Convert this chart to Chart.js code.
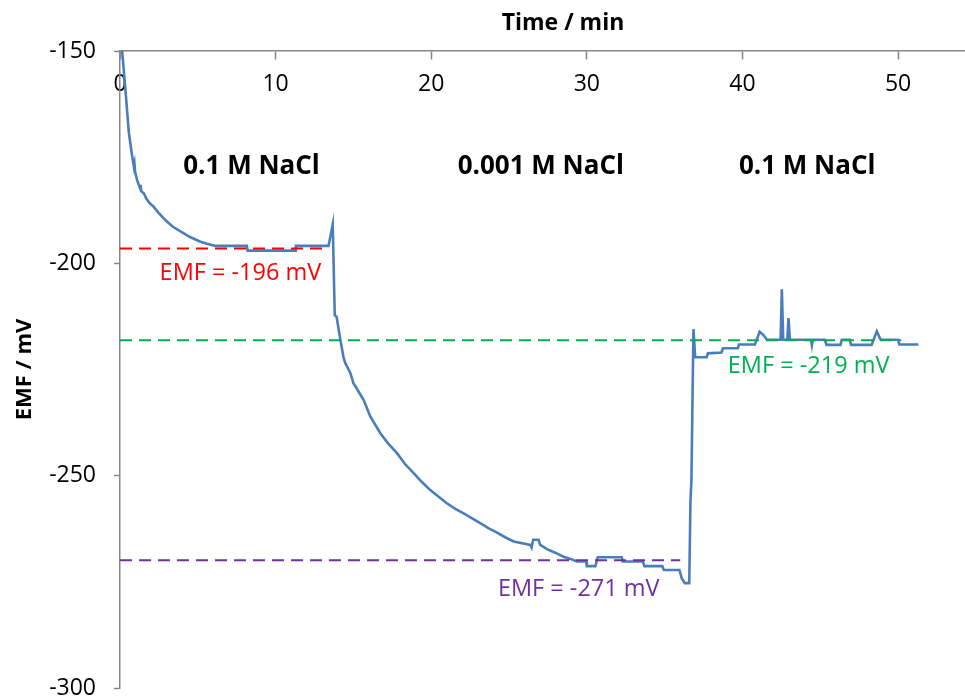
<!DOCTYPE html>
<html>
<head>
<meta charset="utf-8">
<title>EMF vs time</title>
<script src="https://cdn.jsdelivr.net/npm/chart.js@4.4.1/dist/chart.umd.min.js"></script>
<style>
  html, body { margin: 0; padding: 0; background: #fff; overflow: hidden; }
  #wrap { width: 965px; height: 699px; }
</style>
</head>
<body>
<div id="wrap"><canvas id="emfChart" width="965" height="699"></canvas></div>
<script>
const timeMin = [
  0.00, 0.14, 0.35, 0.57, 0.75, 0.89, 0.93, 0.97, 1.10, 1.30, 1.33, 1.36, 1.53, 1.70, 1.90,
  2.17, 2.45, 2.75, 3.03, 3.40, 3.89, 4.50, 5.17, 5.60, 6.13, 8.15, 8.20, 11.25, 11.30, 13.40,
  13.67, 13.80, 13.92, 14.16, 14.37, 14.48, 14.80, 15.00, 15.30, 15.66, 16.09, 16.73, 17.25,
  17.80, 18.30, 18.87, 19.40, 19.94, 20.50, 21.00, 21.55, 22.08, 22.60, 23.15, 23.70, 24.23,
  24.75, 25.30, 26.37, 26.45, 26.55, 26.90, 27.00, 27.44, 28.00, 28.50, 28.95, 29.36, 29.95,
  30.00, 30.55, 30.70, 32.25, 32.30, 33.60, 33.70, 34.85, 34.95, 35.95, 36.10, 36.30, 36.58,
  36.66, 36.72, 36.85, 36.96, 37.70, 37.78, 38.65, 38.75, 39.70, 39.78, 40.80, 41.10, 41.35,
  41.57, 42.45, 42.53, 42.62, 42.88, 42.96, 43.05, 44.40, 44.46, 44.52, 45.30, 45.40, 46.30,
  46.38, 46.90, 46.98, 48.30, 48.63, 48.88, 50.00, 50.08, 51.30
];
const emfMv = [
  -146.0, -150.0, -159.2, -169.3, -174.0, -177.2, -176.5, -178.5, -180.4, -182.4, -181.5, -183.0, -183.5, -184.8, -185.8,
  -186.7, -188.0, -189.2, -190.2, -191.4, -192.5, -193.8, -194.9, -195.4, -195.9, -195.9, -197.0, -197.0, -195.9, -195.9,
  -190.8, -212.2, -212.6, -218.0, -222.3, -223.5, -225.8, -228.2, -230.0, -232.2, -236.1, -240.0, -242.5,
  -244.7, -247.2, -249.4, -251.5, -253.4, -255.0, -256.5, -257.8, -258.9, -260.0, -261.2, -262.4, -263.4,
  -264.5, -265.5, -266.3, -266.9, -265.1, -265.1, -266.3, -267.3, -268.2, -269.1, -269.6, -270.2, -270.2,
  -271.3, -271.3, -269.2, -269.2, -270.2, -270.2, -271.3, -271.3, -272.2, -272.2, -274.2, -275.3, -275.3,
  -255.7, -251.0, -215.5, -222.1, -222.1, -221.2, -221.0, -220.0, -220.0, -219.1, -219.1, -216.1, -216.9,
  -218.0, -218.0, -206.1, -218.0, -218.0, -212.9, -218.0, -218.0, -219.3, -218.0, -218.0, -219.2, -219.2,
  -218.0, -218.0, -219.2, -219.2, -216.0, -218.0, -218.0, -219.1, -219.1
];

// Plateau guide lines (dashed), each starting at t = 0
const plateauEmf = [-196.5, -269.9, -218.1];
const plateauEnd = [13.0, 36.0, 50.2];
const plateauColors = ['#ff0000', '#7030a0', '#00b050'];

// Text notes placed in data coordinates
const noteTexts = ['0.1 M NaCl', '0.001 M NaCl', '0.1 M NaCl', 'EMF = -196 mV', 'EMF = -219 mV', 'EMF = -271 mV'];
const noteTime = [8.45, 27.04, 44.16, 7.74, 44.25, 29.48];
const noteEmf = [-177.2, -177.2, -177.2, -202.3, -224.2, -276.7];
const noteColors = ['#000000', '#000000', '#000000', '#ff0000', '#00b050', '#7030a0'];
const noteBold = [true, true, true, false, false, false];

const FONT = "'Open Sans', 'DejaVu Sans', sans-serif";
const AXIS_GREY = '#868686';

const traceData = timeMin.map((t, i) => ({ x: t, y: emfMv[i] }));

const plateauSets = plateauEmf.map((v, i) => ({
    data: [{ x: 0, y: v }, { x: plateauEnd[i], y: v }],
    borderColor: plateauColors[i],
    borderWidth: 2,
    borderDash: [12, 7],
    pointRadius: 0,
    order: 1
}));

// draws the concentration / EMF notes and the top axis title
const notesPlugin = {
    id: 'notes',
    afterDatasetsDraw(chart) {
        const { ctx, scales, chartArea } = chart;
        ctx.save();
        ctx.textAlign = 'center';
        ctx.textBaseline = 'middle';
        noteTexts.forEach((txt, i) => {
            ctx.font = noteBold[i] ? 'bold 26px ' + FONT : '23.5px ' + FONT;
            ctx.fillStyle = noteColors[i];
            ctx.fillText(txt, scales.x.getPixelForValue(noteTime[i]), scales.y.getPixelForValue(noteEmf[i]));
        });
        // x axis title sits above the axis line
        ctx.font = 'bold 23px ' + FONT;
        ctx.fillStyle = '#000';
        ctx.fillText('Time / min', chartArea.left + 443, chartArea.top - 28);
        ctx.restore();
    }
};

new Chart(document.getElementById('emfChart'), {
    type: 'line',
    data: {
        datasets: [{
            data: traceData,
            borderColor: '#4a7ebb',
            borderWidth: 2.6,
            pointRadius: 0,
            tension: 0,
            order: 2
        }].concat(plateauSets)
    },
    options: {
        responsive: false,
        animation: false,
        layout: { autoPadding: false, padding: { top: 51, bottom: 11, left: 0, right: 0 } },
        plugins: { legend: { display: false }, tooltip: { enabled: false } },
        scales: {
            x: {
                type: 'linear',
                position: { y: -150 },
                min: 0,
                max: 54.3,
                afterFit(scale) { scale.height = 0; },
                ticks: {
                    stepSize: 10,
                    includeBounds: false,
                    padding: 12,
                    color: '#000',
                    font: { family: FONT, size: 23 }
                },
                grid: { drawOnChartArea: false, tickLength: 8, color: AXIS_GREY, tickWidth: 1.5 },
                border: { color: AXIS_GREY, width: 1.5 }
            },
            y: {
                type: 'linear',
                position: 'left',
                min: -300,
                max: -150,
                afterFit(scale) {
                    scale.width = 120;
                    // the end labels may hang over the plot edges, no extra room needed
                    scale.paddingTop = 0;
                    scale.paddingBottom = 0;
                },
                ticks: {
                    stepSize: 50,
                    padding: 18,
                    color: '#000',
                    font: { family: FONT, size: 23, lineHeight: 1 }
                },
                grid: { drawOnChartArea: false, tickLength: 6, color: AXIS_GREY, tickWidth: 1.5 },
                border: { color: AXIS_GREY, width: 1.5 },
                title: {
                    display: true,
                    text: 'EMF / mV',
                    color: '#000',
                    font: { family: FONT, size: 22, weight: 'bold' },
                    padding: { top: 12, bottom: 0 }
                }
            }
        }
    },
    plugins: [notesPlugin]
});
</script>
</body>
</html>
